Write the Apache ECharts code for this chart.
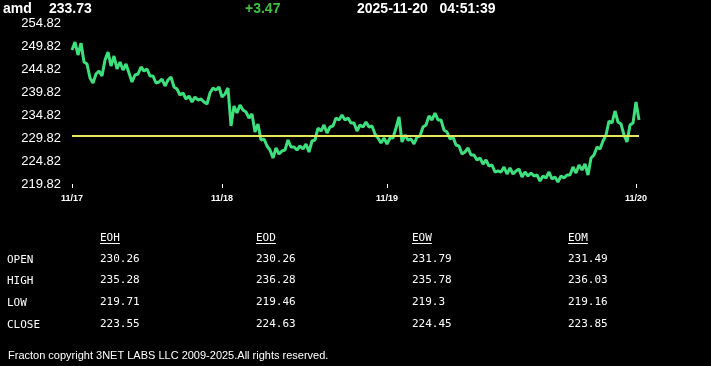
<!DOCTYPE html>
<html><head><meta charset="utf-8">
<script src="https://cdn.jsdelivr.net/npm/echarts@6/dist/echarts.min.js"></script>
<style>html,body{margin:0;padding:0;background:#000;}#c{width:711px;height:366px;}</style>
</head><body><div id="c"></div>
<script>
// ---- data ----
const symbol = 'amd';
const lastPrice = '233.73';
const change = '+3.47';
const stamp = '2025-11-20   04:51:39';
const refPrice = 230.26;
const yMin = 219.82, yMax = 254.82;
const yTickLabels = [219.82, 224.82, 229.82, 234.82, 239.82, 244.82, 249.82, 254.82];
const dayLabels = ['11/17', '11/18', '11/19', '11/20'];
const dayStartIndex = [0, 50, 105, 188];
const prices = [
  248.95,250.69,247.86,250.47,246.34,245.91,242.86,241.78,243.73,244.39,
  243.30,246.78,248.52,245.47,247.65,244.82,246.34,244.60,245.91,243.95,
  242.00,243.52,243.73,245.26,244.39,244.82,243.30,243.30,241.78,242.00,
  242.65,241.12,242.43,243.08,240.91,240.47,239.17,239.60,238.30,238.95,
  237.65,238.73,238.08,238.30,237.65,237.21,239.60,240.69,240.25,240.91,
  238.73,239.39,240.69,232.43,236.78,235.26,236.99,235.91,235.47,234.17,
  235.04,231.12,232.86,229.39,229.60,228.08,227.21,225.47,227.65,226.34,
  227.00,227.21,229.39,227.86,227.86,227.21,228.08,227.43,228.51,226.78,
  229.17,229.39,231.99,231.34,232.65,230.91,232.21,232.43,234.17,233.73,
  234.82,233.73,234.17,233.08,233.08,231.34,232.65,232.21,233.30,232.21,
  232.43,230.69,229.82,228.73,229.82,228.51,229.82,229.82,231.99,234.39,
  228.95,230.47,229.39,229.60,228.51,230.04,230.25,232.21,232.65,234.60,
  233.73,235.26,233.73,233.73,231.56,231.12,229.60,230.04,228.30,228.08,
  226.34,226.78,227.65,226.12,226.12,225.04,225.47,224.17,225.04,223.73,
  223.95,222.43,222.65,222.43,223.52,221.99,223.30,221.99,222.65,223.08,
  221.34,222.43,221.56,222.21,221.56,221.78,220.47,221.56,221.12,222.43,
  220.91,221.34,220.25,221.56,221.12,221.78,221.78,223.52,222.21,223.95,
  222.86,224.17,221.78,225.47,226.12,227.86,227.43,229.17,230.47,233.52,
  233.08,235.69,233.30,232.86,230.47,228.95,232.65,233.08,237.64,233.73
];
const tableColumns = ['EOH', 'EOD', 'EOW', 'EOM'];
const tableRows = ['OPEN', 'HIGH', 'LOW', 'CLOSE'];
const eohValues = ['230.26', '235.28', '219.71', '223.55'];
const eodValues = ['230.26', '236.28', '219.46', '224.63'];
const eowValues = ['231.79', '235.78', '219.3', '224.45'];
const eomValues = ['231.49', '236.03', '219.16', '223.85'];
const footer = 'Fracton copyright 3NET LABS LLC 2009-2025.All rights reserved.';

// ---- chart ----
const categories = prices.map((_, i) => String(i));
const labelFor = {};
dayStartIndex.forEach((idx, k) => { labelFor[idx] = dayLabels[k]; });
const isDay = (index) => labelFor[index] !== undefined;

const monoFont = '11px "DejaVu Sans Mono", "Liberation Mono", monospace';
const cv = document.createElement('canvas').getContext('2d');
cv.font = monoFont;

const graphics = [];
const headFont = 'bold 14px "Liberation Sans", Arial, sans-serif';
graphics.push({ type: 'text', x: 3, y: 9, style: { text: symbol, fill: '#fff', font: headFont, verticalAlign: 'middle' } });
graphics.push({ type: 'text', x: 49, y: 9, style: { text: lastPrice, fill: '#fff', font: headFont, verticalAlign: 'middle' } });
graphics.push({ type: 'text', x: 245, y: 9, style: { text: change, fill: '#40c040', font: headFont, verticalAlign: 'middle' } });
graphics.push({ type: 'text', x: 357, y: 9, style: { text: stamp, fill: '#fff', font: headFont, verticalAlign: 'middle' } });

const colX = [100, 256, 412, 568];
const colVals = [eohValues, eodValues, eowValues, eomValues];
tableColumns.forEach((c, k) => {
  graphics.push({ type: 'text', x: colX[k], y: 238, style: { text: c, fill: '#fff', font: monoFont, verticalAlign: 'middle' } });
  const w = cv.measureText(c).width;
  graphics.push({ type: 'line', shape: { x1: colX[k], y1: 243.5, x2: colX[k] + w, y2: 243.5 }, style: { stroke: '#fff', lineWidth: 1 } });
});
const rowY = [259, 280, 302, 324];
tableRows.forEach((r, j) => {
  graphics.push({ type: 'text', x: 7, y: rowY[j] + 1, style: { text: r, fill: '#fff', font: monoFont, verticalAlign: 'middle' } });
  colVals.forEach((vals, k) => {
    graphics.push({ type: 'text', x: colX[k], y: rowY[j], style: { text: vals[j], fill: '#fff', font: monoFont, verticalAlign: 'middle' } });
  });
});
graphics.push({ type: 'text', x: 8, y: 356, style: { text: footer, fill: '#fff', font: '11px "Liberation Sans", Arial, sans-serif', verticalAlign: 'middle' } });

const chart = echarts.init(document.getElementById('c'), null, { renderer: 'canvas' });
chart.setOption({
  backgroundColor: '#000',
  animation: false,
  grid: { left: 72, right: 72, top: 23, bottom: 182 },
  xAxis: {
    type: 'category',
    data: categories,
    boundaryGap: false,
    axisLine: { show: false },
    axisTick: { show: true, interval: (i) => isDay(i), length: 4, lineStyle: { color: '#fff', width: 1 } },
    axisLabel: {
      interval: (i) => isDay(i),
      formatter: (v, i) => labelFor[i] || '',
      color: '#fff', fontSize: 9, fontWeight: 'bold', margin: 10,
      fontFamily: '"Liberation Sans", Arial, sans-serif'
    },
    splitLine: { show: false }
  },
  yAxis: {
    type: 'value',
    min: yMin, max: yMax,
    axisLine: { show: false },
    axisTick: { show: false },
    splitLine: { show: false },
    axisLabel: {
      customValues: yTickLabels,
      formatter: (v) => v.toFixed(2),
      color: '#fff', fontSize: 13, margin: 11,
      fontFamily: '"Liberation Sans", Arial, sans-serif'
    }
  },
  series: [{
    type: 'line',
    data: prices,
    showSymbol: false,
    lineStyle: { color: '#3ee07d', width: 3, join: 'bevel' },
    markLine: {
      silent: true,
      symbol: 'none',
      label: { show: false },
      lineStyle: { color: '#e6e65c', width: 2, type: 'solid' },
      data: [{ yAxis: refPrice }]
    }
  }],
  graphic: graphics
});
</script>
</body></html>
